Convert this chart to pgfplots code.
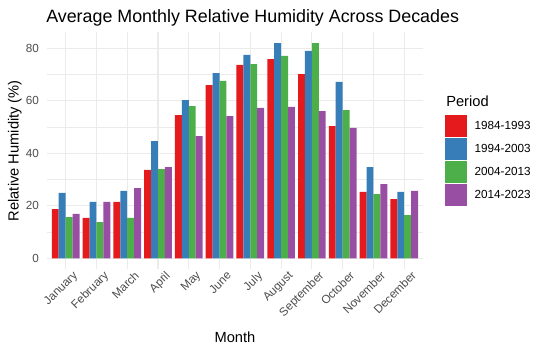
\documentclass[border=0pt]{standalone}
\usepackage{fontspec}
\setmainfont{Liberation Sans}
\usepackage{pgfplots}
\pgfplotsset{compat=1.18}
\definecolor{cRed}{HTML}{E41A1C}
\definecolor{cBlue}{HTML}{377EB8}
\definecolor{cGreen}{HTML}{4DAF4A}
\definecolor{cPurple}{HTML}{984EA3}
\definecolor{gridc}{HTML}{EBEBEB}
\definecolor{tickc}{HTML}{4D4D4D}
\begin{document}
\begin{tikzpicture}
\path[use as bounding box] (0,0) rectangle (412.5pt,264.75pt);
\begin{axis}[
  at={(35.4pt,62.9pt)}, anchor=south west,
  scale only axis, width=281.6pt, height=177.6pt,
  xmin=-0.6, xmax=11.6, ymin=-4.1, ymax=86.1,
  xtick={0,...,11},
  xticklabels={January,February,March,April,May,June,July,August,September,October,November,December},
  ytick={0,20,40,60,80},
  minor ytick={10,30,50,70},
  xmajorgrids, ymajorgrids, yminorgrids,
  major grid style={draw=gridc, line width=0.8pt},
  minor grid style={draw=gridc, line width=0.4pt},
  axis line style={draw=none},
  major tick length=0pt, minor tick length=0pt,
  tick style={draw=none},
  /pgf/number format/assume math mode=true,
  ticklabel style={font=\fontsize{8.8pt}{10pt}\selectfont, text=tickc},
  yticklabel style={anchor=east, inner sep=0pt, xshift=-6pt},
  xticklabel style={rotate=45, anchor=north east, inner sep=0pt, yshift=-4pt, xshift=3pt},
  xlabel={Month},
  ylabel={Relative Humidity (\%)},
  label style={font=\fontsize{11pt}{13pt}\selectfont},
  xlabel style={at={(axis description cs:0.5,-0.309)}, anchor=base, inner sep=0pt},
  ylabel style={at={(axis description cs:-0.0763,0.5)}, anchor=base, inner sep=0pt},
  legend style={at={(axis description cs:1.0595,0.650)}, anchor=north west, draw=none, fill=none,
    font=\fontsize{8.8pt}{10pt}\selectfont, row sep=1.25pt, inner sep=0pt,
    nodes={inner sep=0pt}, column sep=6pt},
  legend cell align=left,
  legend image code/.code={\fill[#1] (0pt,-8pt) rectangle (16pt,8pt);},
]
\addplot[ybar, bar width=0.225, bar shift=-0.3375, fill=cRed, draw=none] coordinates {
(0,18.8) (1,15.4) (2,21.5) (3,33.7) (4,54.6) (5,66.0) (6,73.7) (7,75.9) (8,70.2) (9,50.4) (10,25.3) (11,22.6)};
\addlegendentry{1984-1993}
\addplot[ybar, bar width=0.225, bar shift=-0.1125, fill=cBlue, draw=none] coordinates {
(0,24.9) (1,21.5) (2,25.7) (3,44.7) (4,60.3) (5,70.6) (6,77.5) (7,82.0) (8,79.0) (9,67.2) (10,34.8) (11,25.3)};
\addlegendentry{1994-2003}
\addplot[ybar, bar width=0.225, bar shift=0.1125, fill=cGreen, draw=none] coordinates {
(0,15.7) (1,13.8) (2,15.4) (3,34.0) (4,58.0) (5,67.6) (6,74.0) (7,77.1) (8,82.0) (9,56.5) (10,24.5) (11,16.5)};
\addlegendentry{2004-2013}
\addplot[ybar, bar width=0.225, bar shift=0.3375, fill=cPurple, draw=none] coordinates {
(0,16.9) (1,21.5) (2,26.8) (3,34.8) (4,46.6) (5,54.2) (6,57.3) (7,57.7) (8,56.1) (9,49.7) (10,28.3) (11,25.7)};
\addlegendentry{2014-2023}
\end{axis}
\node[anchor=base west, inner sep=0pt, font=\fontsize{13.4pt}{15pt}\selectfont] at (34.5pt,247.7pt) {Average Monthly Relative Humidity Across Decades};
\node[anchor=base west, inner sep=0pt, font=\fontsize{11pt}{13pt}\selectfont] at (334.5pt,184.7pt) {Period};
\end{tikzpicture}
\end{document}
